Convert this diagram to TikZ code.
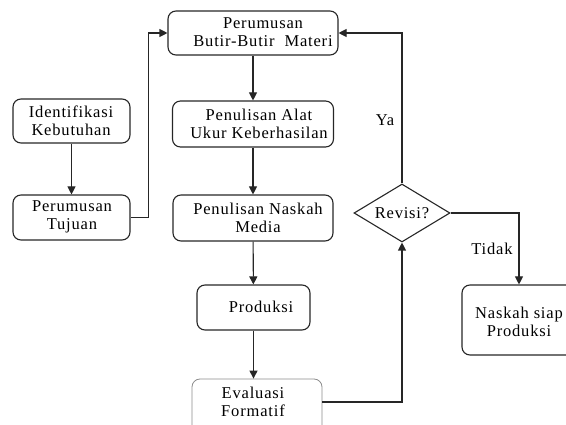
\documentclass[tikz,border=0pt]{standalone}
\usepackage{fontspec}
\setmainfont[LetterSpace=5]{Liberation Serif}
\usetikzlibrary{arrows.meta,shapes.geometric}
\begin{document}
\begin{tikzpicture}[x=1pt,y=-1pt,
  box/.style={draw=black!85, rounded corners=8pt, line width=1.1pt, inner sep=0pt},
  lbl/.style={font=\fontsize{16.5}{18}\selectfont, align=center, inner sep=0pt},
  arr/.style={-{Triangle[length=8pt,width=8pt]}, line width=1.1pt, draw=black!85}]
\clip (0,0) rectangle (566,425);
% boxes
\node[box, minimum width=170pt, minimum height=44pt] (pbm) at (253,33) {};
\node[box, minimum width=117pt, minimum height=44pt] (idk) at (71.5,121) {};
\node[box, minimum width=117pt, minimum height=45pt] (ptj) at (71.5,217.5) {};
\node[box, minimum width=161pt, minimum height=46pt] (pau) at (253,124) {};
\node[box, minimum width=160pt, minimum height=46pt] (pnm) at (253,218) {};
\node[box, minimum width=113pt, minimum height=45pt] (prd) at (253.5,307.5) {};
\node[box, draw=black!45, line width=0.8pt, minimum width=130pt, minimum height=54pt] (evl) at (257,406) {};
\node[draw=black!85, line width=1.1pt, shape=diamond, aspect=1.65, inner sep=0pt,
      minimum width=96pt, minimum height=58pt, font=\fontsize{16.5}{18}\selectfont] (rev) at (402,213) {Revisi?};
\node[box, minimum width=114pt, minimum height=70pt] (nsp) at (519,320) {};
% texts
\node[lbl] (pbmt) at (263,32) {Perumusan\\Butir-Butir\ \ Materi};
\node[lbl] (idkt) at (71,121) {Identifikasi\\Kebutuhan};
\node[lbl] (ptjt) at (72,217) {Perumusan\\Tujuan};
\node[lbl] (paut) at (259,124) {Penulisan Alat\\Ukur Keberhasilan};
\node[lbl] (pnmt) at (258,218) {Penulisan Naskah\\Media};
\node[lbl] (prdt) at (261,307) {Produksi};
\node[lbl] (evlt) at (253,402) {Evaluasi\\Formatif};
\node[lbl] (nspt) at (519,322) {Naskah siap\\Produksi};
\node[lbl] (ya) at (385,120) {Ya};
\node[lbl] (tidak) at (492,249) {Tidak};
% connectors
\coordinate (evlout) at ([yshift=4pt]evl.east);
\draw[arr] (idk) -- (ptj);
\draw[arr] (ptj.east) -- ++(18,0) |- (pbm.west);
\draw[arr] (pbm) -- (pau);
\draw[arr] (pau) -- (pnm);
\draw[arr] (pnm) -- (prd);
\draw[arr] (prd.south) -- (prd.south |- evl.north);
\draw[arr] (evlout) -| (rev.south);
\draw[arr] (rev.north) |- (pbm.east);
\draw[arr] (rev.east) -| (nsp.north);
\end{tikzpicture}
\end{document}
